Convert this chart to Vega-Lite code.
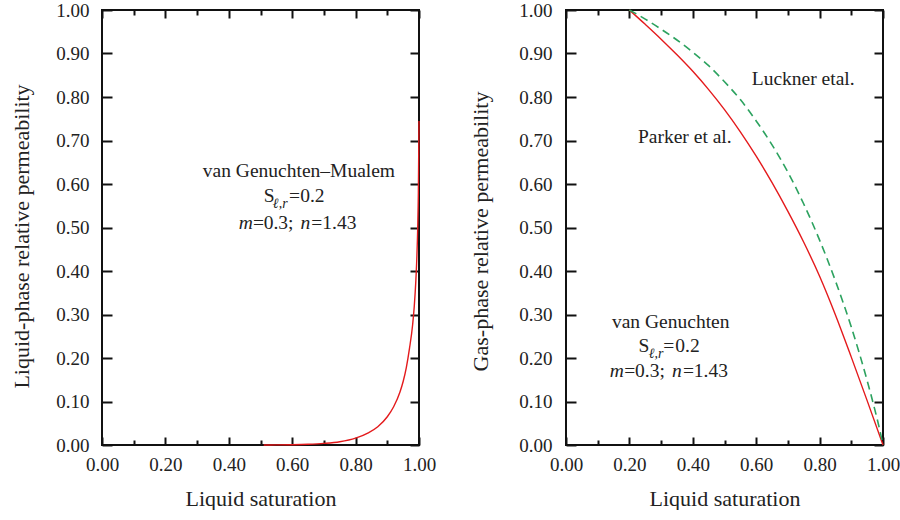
{
  "$schema": "https://vega.github.io/schema/vega-lite/v6.json",
  "padding": {"left": 9, "top": 0, "right": 0, "bottom": 0},
  "background": "white",
  "spacing": 31,
  "datasets": {
    "vgm": [
      {"S": 0.51, "kr": 0.0},
      {"S": 0.55, "kr": 0.0002},
      {"S": 0.60, "kr": 0.0007},
      {"S": 0.65, "kr": 0.0017},
      {"S": 0.70, "kr": 0.0037},
      {"S": 0.75, "kr": 0.0075},
      {"S": 0.80, "kr": 0.0158},
      {"S": 0.84, "kr": 0.028},
      {"S": 0.87, "kr": 0.042},
      {"S": 0.90, "kr": 0.065},
      {"S": 0.92, "kr": 0.088},
      {"S": 0.94, "kr": 0.122},
      {"S": 0.95, "kr": 0.146},
      {"S": 0.96, "kr": 0.178},
      {"S": 0.97, "kr": 0.222},
      {"S": 0.98, "kr": 0.277},
      {"S": 0.985, "kr": 0.318},
      {"S": 0.99, "kr": 0.377},
      {"S": 0.993, "kr": 0.427},
      {"S": 0.996, "kr": 0.50},
      {"S": 0.998, "kr": 0.58},
      {"S": 0.9995, "kr": 0.70},
      {"S": 1.0, "kr": 0.745}
    ],
    "parker": [
      {"S": 0.20, "krg": 1.0},
      {"S": 0.25, "krg": 0.967},
      {"S": 0.30, "krg": 0.933},
      {"S": 0.35, "krg": 0.897},
      {"S": 0.40, "krg": 0.859},
      {"S": 0.45, "krg": 0.817},
      {"S": 0.50, "krg": 0.771},
      {"S": 0.55, "krg": 0.720},
      {"S": 0.60, "krg": 0.664},
      {"S": 0.65, "krg": 0.603},
      {"S": 0.70, "krg": 0.537},
      {"S": 0.75, "krg": 0.466},
      {"S": 0.80, "krg": 0.388},
      {"S": 0.85, "krg": 0.299},
      {"S": 0.90, "krg": 0.202},
      {"S": 0.95, "krg": 0.102},
      {"S": 1.0, "krg": 0.0}
    ],
    "luckner": [
      {"S": 0.20, "krg": 1.0},
      {"S": 0.25, "krg": 0.979},
      {"S": 0.30, "krg": 0.956},
      {"S": 0.35, "krg": 0.931},
      {"S": 0.40, "krg": 0.903},
      {"S": 0.45, "krg": 0.872},
      {"S": 0.50, "krg": 0.835},
      {"S": 0.55, "krg": 0.794},
      {"S": 0.60, "krg": 0.745},
      {"S": 0.65, "krg": 0.690},
      {"S": 0.70, "krg": 0.627},
      {"S": 0.75, "krg": 0.554},
      {"S": 0.80, "krg": 0.471},
      {"S": 0.85, "krg": 0.377},
      {"S": 0.90, "krg": 0.271},
      {"S": 0.95, "krg": 0.148},
      {"S": 0.975, "krg": 0.079},
      {"S": 0.99, "krg": 0.034},
      {"S": 1.0, "krg": 0.0}
    ],
    "leftReg": [
      {"S": 0.318, "k": 0.616, "t": "van Genuchten–Mualem"},
      {"S": 0.510, "k": 0.559, "t": "S"},
      {"S": 0.590, "k": 0.559, "t": "="},
      {"S": 0.625, "k": 0.559, "t": "0.2"},
      {"S": 0.476, "k": 0.497, "t": "="},
      {"S": 0.510, "k": 0.497, "t": "0.3;"},
      {"S": 0.660, "k": 0.497, "t": "="},
      {"S": 0.695, "k": 0.497, "t": "1.43"}
    ],
    "leftIt": [
      {"S": 0.431, "k": 0.497, "t": "m"},
      {"S": 0.626, "k": 0.497, "t": "n"}
    ],
    "leftSub": [
      {"S": 0.539, "k": 0.544, "t": "ℓ,r"}
    ],
    "rightReg": [
      {"S": 0.145, "k": 0.268, "t": "van Genuchten"},
      {"S": 0.229, "k": 0.2145, "t": "S"},
      {"S": 0.307, "k": 0.2145, "t": "="},
      {"S": 0.345, "k": 0.2145, "t": "0.2"},
      {"S": 0.184, "k": 0.157, "t": "="},
      {"S": 0.218, "k": 0.157, "t": "0.3;"},
      {"S": 0.369, "k": 0.157, "t": "="},
      {"S": 0.403, "k": 0.157, "t": "1.43"},
      {"S": 0.586, "k": 0.828, "t": "Luckner etal."},
      {"S": 0.227, "k": 0.694, "t": "Parker et al."}
    ],
    "rightIt": [
      {"S": 0.138, "k": 0.157, "t": "m"},
      {"S": 0.334, "k": 0.157, "t": "n"}
    ],
    "rightSub": [
      {"S": 0.261, "k": 0.200, "t": "ℓ,r"}
    ]
  },
  "hconcat": [
    {
      "width": 317,
      "height": 435,
      "resolve": {"axis": {"x": "independent", "y": "independent"}},
      "layer": [
        {
          "data": {"name": "vgm"},
          "mark": {"type": "line", "color": "#e41a1c", "strokeWidth": 1.4, "interpolate": "monotone"},
          "encoding": {
            "x": {"field": "S", "type": "quantitative", "scale": {"domain": [0, 1], "nice": false},
              "axis": {"title": "Liquid saturation", "orient": "bottom", "values": [0, 0.2, 0.4, 0.6, 0.8, 1],
                "format": ".2f", "offset": -8, "tickSize": 8, "labelPadding": 10, "titlePadding": 14}},
            "y": {"field": "kr", "type": "quantitative", "scale": {"domain": [0, 1], "nice": false},
              "axis": {"title": "Liquid-phase relative permeability", "orient": "left", "values": [0, 0.1, 0.2, 0.3, 0.4, 0.5, 0.6, 0.7, 0.8, 0.9, 1],
                "format": ".2f", "offset": -10, "tickSize": 10, "labelPadding": 13, "titlePadding": 22, "titleY": 226}}
          }
        },
        {
          "data": {"name": "vgm"},
          "mark": {"type": "line", "opacity": 0},
          "encoding": {
            "x": {"field": "S", "type": "quantitative",
              "axis": {"title": null, "orient": "bottom", "labels": false, "values": [0.1, 0.3, 0.5, 0.7, 0.9], "offset": -5, "tickSize": 5}},
            "y": {"field": "kr", "type": "quantitative",
              "axis": {"title": null, "orient": "right", "labels": false, "values": [0, 0.1, 0.2, 0.3, 0.4, 0.5, 0.6, 0.7, 0.8, 0.9, 1], "offset": -9, "tickSize": 9}}
          }
        },
        {
          "data": {"name": "vgm"},
          "mark": {"type": "line", "opacity": 0},
          "encoding": {
            "x": {"field": "S", "type": "quantitative",
              "axis": {"title": null, "orient": "top", "labels": false, "values": [0, 0.2, 0.4, 0.6, 0.8, 1], "offset": -8, "tickSize": 8}},
            "y": {"field": "kr", "type": "quantitative", "axis": null}
          }
        },
        {
          "data": {"name": "vgm"},
          "mark": {"type": "line", "opacity": 0},
          "encoding": {
            "x": {"field": "S", "type": "quantitative",
              "axis": {"title": null, "orient": "top", "labels": false, "values": [0.1, 0.3, 0.5, 0.7, 0.9], "offset": -5, "tickSize": 5}},
            "y": {"field": "kr", "type": "quantitative", "axis": null}
          }
        },
        {
          "data": {"name": "leftReg"},
          "mark": {"type": "text", "align": "left", "baseline": "alphabetic", "font": "Liberation Serif", "fontSize": 19.5, "color": "#222"},
          "encoding": {
            "x": {"field": "S", "type": "quantitative", "axis": null},
            "y": {"field": "k", "type": "quantitative", "axis": null},
            "text": {"field": "t"}
          }
        },
        {
          "data": {"name": "leftIt"},
          "mark": {"type": "text", "align": "left", "baseline": "alphabetic", "font": "Liberation Serif", "fontStyle": "italic", "fontSize": 19.5, "color": "#222"},
          "encoding": {
            "x": {"field": "S", "type": "quantitative", "axis": null},
            "y": {"field": "k", "type": "quantitative", "axis": null},
            "text": {"field": "t"}
          }
        },
        {
          "data": {"name": "leftSub"},
          "mark": {"type": "text", "align": "left", "baseline": "alphabetic", "font": "Liberation Serif", "fontStyle": "italic", "fontSize": 14, "color": "#222"},
          "encoding": {
            "x": {"field": "S", "type": "quantitative", "axis": null},
            "y": {"field": "k", "type": "quantitative", "axis": null},
            "text": {"field": "t"}
          }
        }
      ]
    },
    {
      "width": 317,
      "height": 435,
      "resolve": {"axis": {"x": "independent", "y": "independent"}},
      "layer": [
        {
          "data": {"name": "parker"},
          "mark": {"type": "line", "color": "#e41a1c", "strokeWidth": 1.4, "interpolate": "monotone"},
          "encoding": {
            "x": {"field": "S", "type": "quantitative", "scale": {"domain": [0, 1], "nice": false},
              "axis": {"title": "Liquid saturation", "orient": "bottom", "values": [0, 0.2, 0.4, 0.6, 0.8, 1],
                "format": ".2f", "offset": -8, "tickSize": 8, "labelPadding": 10, "titlePadding": 14}},
            "y": {"field": "krg", "type": "quantitative", "scale": {"domain": [0, 1], "nice": false},
              "axis": {"title": "Gas-phase relative permeability", "orient": "left", "values": [0, 0.1, 0.2, 0.3, 0.4, 0.5, 0.6, 0.7, 0.8, 0.9, 1],
                "format": ".2f", "offset": -10, "tickSize": 10, "labelPadding": 14, "titlePadding": 26, "titleY": 221}}
          }
        },
        {
          "data": {"name": "luckner"},
          "mark": {"type": "line", "color": "#2ca25f", "strokeWidth": 1.6, "strokeDash": [8, 5], "interpolate": "monotone"},
          "encoding": {
            "x": {"field": "S", "type": "quantitative", "axis": null},
            "y": {"field": "krg", "type": "quantitative", "axis": null}
          }
        },
        {
          "data": {"name": "parker"},
          "mark": {"type": "line", "opacity": 0},
          "encoding": {
            "x": {"field": "S", "type": "quantitative",
              "axis": {"title": null, "orient": "bottom", "labels": false, "values": [0.1, 0.3, 0.5, 0.7, 0.9], "offset": -5, "tickSize": 5}},
            "y": {"field": "krg", "type": "quantitative",
              "axis": {"title": null, "orient": "right", "labels": false, "values": [0, 0.1, 0.2, 0.3, 0.4, 0.5, 0.6, 0.7, 0.8, 0.9, 1], "offset": -9, "tickSize": 9}}
          }
        },
        {
          "data": {"name": "parker"},
          "mark": {"type": "line", "opacity": 0},
          "encoding": {
            "x": {"field": "S", "type": "quantitative",
              "axis": {"title": null, "orient": "top", "labels": false, "values": [0, 0.2, 0.4, 0.6, 0.8, 1], "offset": -8, "tickSize": 8}},
            "y": {"field": "krg", "type": "quantitative", "axis": null}
          }
        },
        {
          "data": {"name": "parker"},
          "mark": {"type": "line", "opacity": 0},
          "encoding": {
            "x": {"field": "S", "type": "quantitative",
              "axis": {"title": null, "orient": "top", "labels": false, "values": [0.1, 0.3, 0.5, 0.7, 0.9], "offset": -5, "tickSize": 5}},
            "y": {"field": "krg", "type": "quantitative", "axis": null}
          }
        },
        {
          "data": {"name": "rightReg"},
          "mark": {"type": "text", "align": "left", "baseline": "alphabetic", "font": "Liberation Serif", "fontSize": 19.5, "color": "#222"},
          "encoding": {
            "x": {"field": "S", "type": "quantitative", "axis": null},
            "y": {"field": "k", "type": "quantitative", "axis": null},
            "text": {"field": "t"}
          }
        },
        {
          "data": {"name": "rightIt"},
          "mark": {"type": "text", "align": "left", "baseline": "alphabetic", "font": "Liberation Serif", "fontStyle": "italic", "fontSize": 19.5, "color": "#222"},
          "encoding": {
            "x": {"field": "S", "type": "quantitative", "axis": null},
            "y": {"field": "k", "type": "quantitative", "axis": null},
            "text": {"field": "t"}
          }
        },
        {
          "data": {"name": "rightSub"},
          "mark": {"type": "text", "align": "left", "baseline": "alphabetic", "font": "Liberation Serif", "fontStyle": "italic", "fontSize": 14, "color": "#222"},
          "encoding": {
            "x": {"field": "S", "type": "quantitative", "axis": null},
            "y": {"field": "k", "type": "quantitative", "axis": null},
            "text": {"field": "t"}
          }
        }
      ]
    }
  ],
  "config": {
    "font": "Liberation Serif",
    "view": {"stroke": "#111", "strokeWidth": 2},
    "axis": {
      "grid": false,
      "domain": false,
      "labelFont": "Liberation Serif",
      "labelFontSize": 19,
      "labelColor": "#222",
      "titleFont": "Liberation Serif",
      "titleFontSize": 22,
      "titleFontWeight": "normal",
      "titleColor": "#222",
      "tickColor": "#111",
      "tickWidth": 2,
      "labelFlush": false,
      "labelOverlap": false
    }
  }
}
